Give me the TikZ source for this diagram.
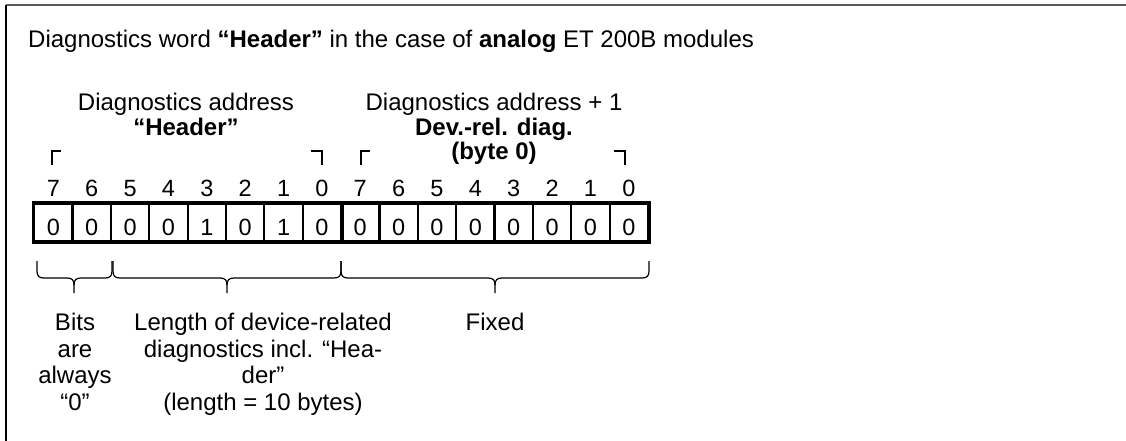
\documentclass[tikz,border=0pt]{standalone}
\usepackage{fontspec}
\setmainfont{Liberation Sans}
\begin{document}
\begin{tikzpicture}[x=1pt,y=-1pt,
  lbl/.style={font=\fontsize{24}{26.5}\selectfont, inner sep=0pt, align=center},
  toplbl/.style={font=\fontsize{24}{24.5}\selectfont, inner sep=0pt, align=center},
  bitno/.style={font=\fontsize{23.5}{23.5}\selectfont, inner sep=0pt, anchor=base},
  cell/.style={draw, line width=2.2pt, minimum width=38.36pt, minimum height=37.3pt,
    inner sep=0pt, text height=24.7pt, text depth=0pt, font=\fontsize{23.5}{23.5}\selectfont},
  frame/.style={line width=3pt},
  bracestyle/.style={line width=1.2pt},
  markline/.style={line width=1.2pt}]
\useasboundingbox (0,0) rectangle (1126,441);
% page frame
\draw[line width=1.6pt, black!65] (6,5) -- (1126,5);
\draw[line width=1.6pt] (6,5) -- (6,441);
% title
\node[lbl, anchor=base west] (title) at (28,48)
  {Diagnostics word \textbf{“Header”} in the case of \textbf{analog} ET 200B modules};
% byte labels
\node[toplbl, anchor=north] (hdr) at (186,93)
  {Diagnostics address\\\textbf{“Header”}};
\node[toplbl, anchor=north] (dev) at (494,93)
  {Diagnostics address + 1\\\textbf{Dev.-rel. diag.}\\\textbf{(byte 0)}};
% cells
\foreach \v [count=\i from 0] in {0,0,0,0,1,0,1,0,0,0,0,0,0,0,0,0}
  \node[cell] (c\i) at ({34.2+38.36*(\i+0.5)},222.65) {\v};
\draw[frame] (c0.north west) rectangle (c15.south east);
\draw[frame] (c7.north east) -- (c7.south east);
% bit numbers
\foreach \b [count=\i from 0] in {7,6,5,4,3,2,1,0,7,6,5,4,3,2,1,0}
  \node[bitno] (b\i) at ({34.2+38.36*(\i+0.5)},196) {\b};
% corner marks
\draw[markline] (52,165) -- (52,151) -- (61,151);
\draw[markline] (311,151) -- (322,151) -- (322,165);
\draw[markline] (361,165) -- (361,151) -- (370,151);
\draw[markline] (614,151) -- (625,151) -- (625,165);
% braces
\newcommand\mybrace[3]{%
  \draw[bracestyle] (#1,261) -- (#1,271) .. controls (#1,276) and (#1+2,278) .. (#1+7,278)
    -- (#2-7,278) .. controls (#2-2,278) and (#2,280) .. (#2,285) -- (#2,293);
  \draw[bracestyle] (#3,261) -- (#3,271) .. controls (#3,276) and (#3-2,278) .. (#3-7,278)
    -- (#2+7,278) .. controls (#2+2,278) and (#2,280) .. (#2,285);}
\mybrace{37}{74}{112}
\mybrace{113}{227}{341}
\mybrace{341}{495}{649}
% bottom labels
\node[lbl, anchor=north] (bits) at (75,313) {Bits\\are\\always\\“0”};
\node[lbl, anchor=north] (len) at (263,313)
  {Length of device-related\\diagnostics incl. “Hea-\\der”\hspace*{78pt}\\(length = 10 bytes)};
\node[lbl, anchor=base] (fixed) at (495,330) {Fixed};
\end{tikzpicture}
\end{document}
